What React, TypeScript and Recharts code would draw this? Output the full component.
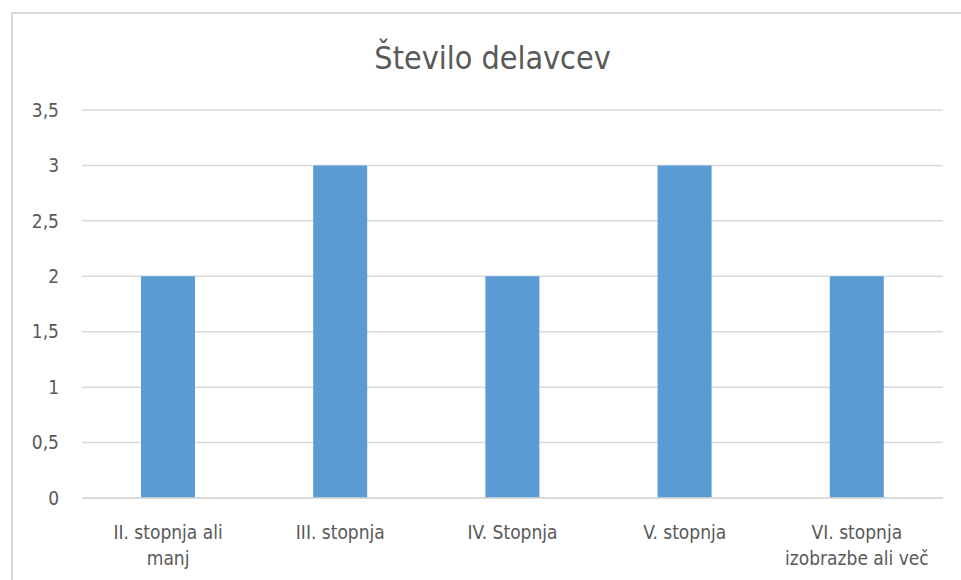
import React from 'react';
import { BarChart, Bar, XAxis, YAxis, CartesianGrid } from 'recharts';

const categories = ['II. stopnja ali manj', 'III. stopnja', 'IV. Stopnja', 'V. stopnja', 'VI. stopnja izobrazbe ali več'];
const workers = [2, 3, 2, 3, 2];
const yTicks = [0, 0.5, 1, 1.5, 2, 2.5, 3, 3.5];

const data = categories.map((name, i) => ({ name, value: workers[i] }));

const FONT = '"DejaVu Sans Condensed", "Liberation Sans Narrow", "Open Sans", sans-serif';
const GREY = '#595959';

// greedy word wrap measured with a canvas
const ctx = document.createElement('canvas').getContext('2d');
const wrap = (text: string, maxWidth: number) => {
  if (ctx) ctx.font = `19px ${FONT}`;
  const lines: string[] = [];
  let cur = '';
  text.split(' ').forEach((w) => {
    const next = cur ? cur + ' ' + w : w;
    const width = ctx ? ctx.measureText(next).width : next.length * 9;
    if (cur && width > maxWidth) {
      lines.push(cur);
      cur = w;
    } else {
      cur = next;
    }
  });
  if (cur) lines.push(cur);
  return lines;
};

const CategoryTick = (props: any) => {
  const { x, y, payload } = props;
  const lines = wrap(payload.value, 152);
  return (
    <text x={x} y={y} textAnchor="middle" fill={GREY} fontSize={19} fontFamily={FONT}>
      {lines.map((l, i) => (
        <tspan key={i} x={x} dy={i === 0 ? 14 : 26}>{l}</tspan>
      ))}
    </text>
  );
};

export default function App() {
  return (
    <div style={{ position: 'absolute', left: 0, top: 0, width: 961, height: 580, overflow: 'hidden', background: '#fff' }}>
      <div style={{ position: 'absolute', left: 11, top: 12, width: 1000, height: 700, border: '2px solid #d9d9d9' }} />
      <div style={{ position: 'absolute', left: 0, top: 38, width: 985, textAlign: 'center', fontFamily: FONT, fontSize: 32, color: GREY, lineHeight: '40px' }}>
        Število delavcev
      </div>
      <div style={{ position: 'absolute', left: 0, top: 0 }}>
        <BarChart width={961} height={580} data={data} margin={{ top: 110, right: 18, left: 0, bottom: 0 }}>
          <CartesianGrid vertical={false} stroke="#d9d9d9" strokeWidth={1.5} />
          <YAxis
            width={82}
            domain={[0, 3.5]}
            ticks={yTicks}
            axisLine={false}
            tickLine={false}
            tickMargin={17}
            tickFormatter={(v: number) => String(v).replace('.', ',')}
            tick={{ fontSize: 19, fontFamily: FONT, fill: GREY }}
          />
          <XAxis
            dataKey="name"
            height={82}
            axisLine={{ stroke: '#d9d9d9', strokeWidth: 1.5 }}
            tickLine={false}
            interval={0}
            tickMargin={21}
            tick={<CategoryTick />}
          />
          <Bar dataKey="value" fill="#5b9bd5" barSize={54} isAnimationActive={false} />
        </BarChart>
      </div>
    </div>
  );
}
